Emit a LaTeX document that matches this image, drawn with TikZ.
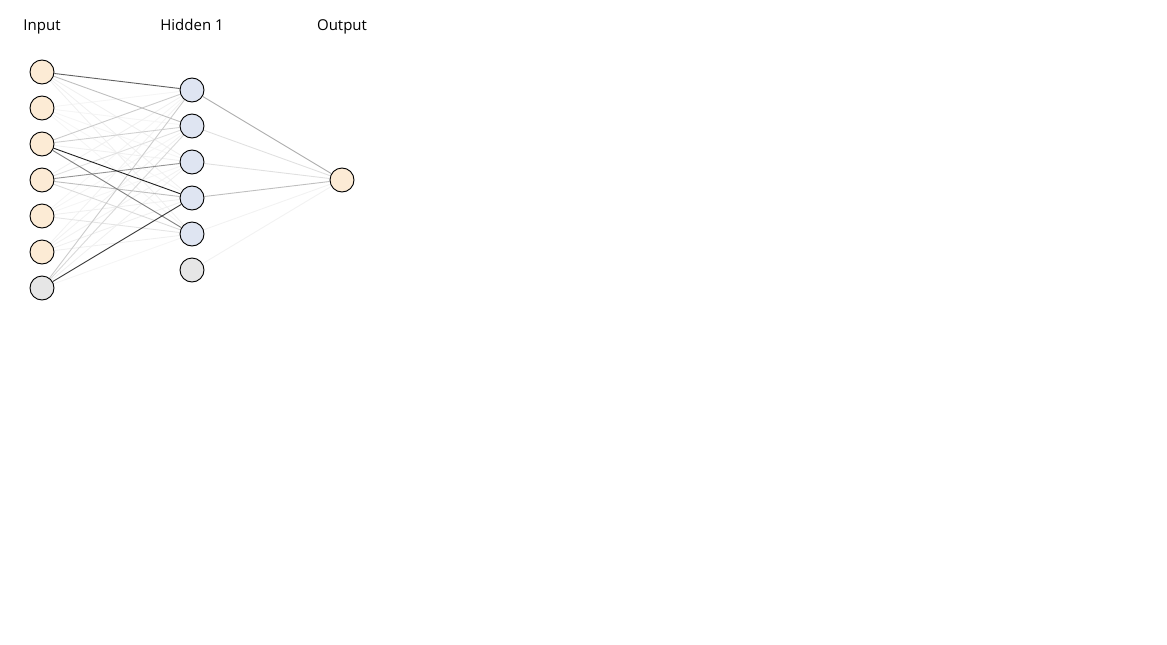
\documentclass[tikz,border=0pt]{standalone}
\usepackage{fontspec}
\setmainfont{Open Sans}
\usetikzlibrary{backgrounds,positioning}
\definecolor{inbeige}{HTML}{FCEBD5}
\definecolor{hidblue}{HTML}{DFE5F2}
\definecolor{biasgray}{HTML}{E6E6E6}

\begin{document}
\begin{tikzpicture}[x=1pt,y=-1pt,thick,
	neuron/.style={draw,circle,minimum size=24pt,inner sep=0pt,line width=0.9pt},
	layername/.style={font=\fontsize{15}{17}\selectfont,anchor=base}]
	\useasboundingbox (0,0) rectangle (1167,645);
	% layer titles
	\node[layername] (tin) at (42,30) {Input};
	\node[layername] (thid) at (192,30) {Hidden 1};
	\node[layername] (tout) at (342,30) {Output};
	% input layer
	\foreach \i in {1,...,6}
		\node[neuron,fill=inbeige] (in\i) at (42,36+36*\i) {};
	\node[neuron,fill=biasgray] (in7) at (42,288) {};
	% hidden layer
	\foreach \j in {1,...,5}
		\node[neuron,fill=hidblue] (hid\j) at (192,54+36*\j) {};
	\node[neuron,fill=biasgray] (hid6) at (192,270) {};
	% output layer
	\node[neuron,fill=inbeige] (out) at (342,180) {};
	% weights (light first, dark on top)
	\begin{pgfonlayer}{background}
		\foreach \i/\j/\w in {2/1/4,2/2/4,2/3/4,2/4/4,2/5/4,
			5/1/4,5/2/4,5/3/4,7/5/4,
			6/1/5,6/2/5,6/3/5,6/4/6,6/5/6,
			1/3/6,1/4/6,1/5/6,3/3/6,4/1/6,5/4/6,7/3/6,
			4/2/12,5/5/10,4/5/14,7/2/15,3/2/18,3/1/20,7/1/20,
			1/2/25,4/4/25,4/3/42,3/5/50,1/1/62,7/4/78,3/4/88}
			\draw[black!\w,line width=0.9pt] (in\i) -- (hid\j);
		\foreach \j/\w in {5/5,6/5,2/12,3/12,4/25,1/32}
			\draw[black!\w,line width=0.9pt] (hid\j) -- (out);
	\end{pgfonlayer}
\end{tikzpicture}
\end{document}
